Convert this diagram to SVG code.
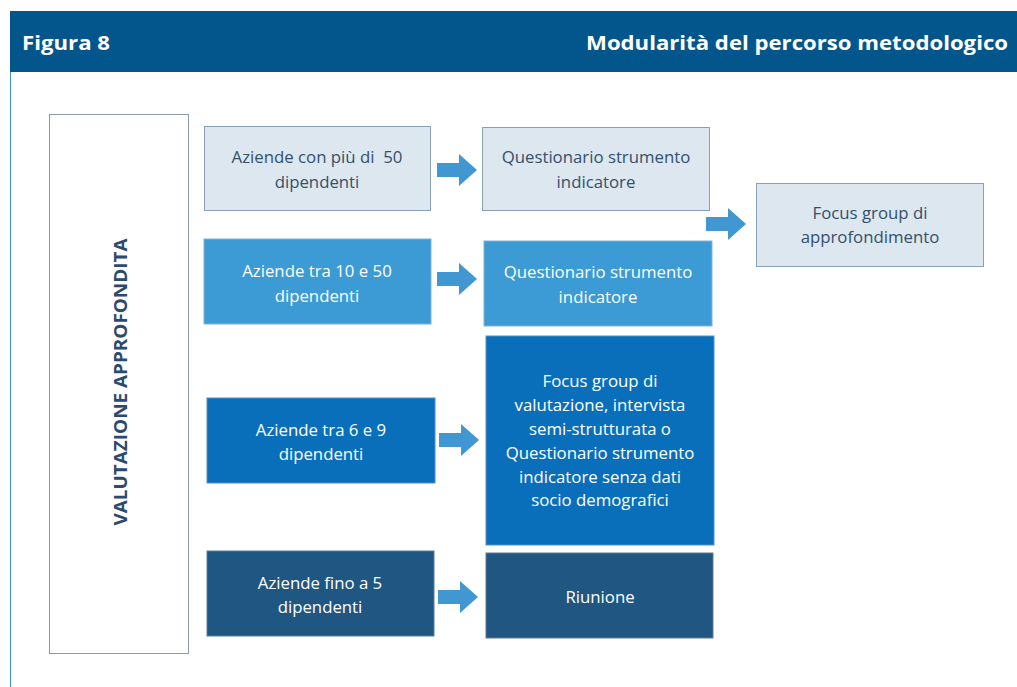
<svg xmlns="http://www.w3.org/2000/svg" width="1017" height="687" viewBox="0 0 1017 687">
<style>
.t{font-family:"Open Sans","Noto Sans",sans-serif;font-size:16.8px;text-anchor:middle}
.dk{fill:#34506b}
.wh{fill:#ffffff}
.light{fill:#dce7f0;stroke:#8aa0b5;stroke-width:1}
.mid{fill:#3c9ad5;stroke:#7fb3d9;stroke-width:1}
.blue{fill:#0a6fbb;stroke:#4e8fc4;stroke-width:1}
.dark{fill:#1f5782;stroke:#5d7d99;stroke-width:1}
.arrow{fill:#4197d2}
.hdr{font-family:"Open Sans","Noto Sans",sans-serif;font-weight:bold;font-size:19px;fill:#ffffff}
</style>
<defs>
<path id="arr" d="M0,-7 L22,-7 L22,-16 L40,0 L22,16 L22,7 L0,7 Z"/>
</defs>
<rect x="0" y="0" width="1017" height="687" fill="#ffffff"/>
<g id="frame">
<rect x="10" y="11" width="1007" height="61" fill="#03568c"/>
<line x1="10.5" y1="72" x2="10.5" y2="687" stroke="#3a8fd0" stroke-width="1"/>
<text class="hdr" x="22" y="50" textLength="88" lengthAdjust="spacingAndGlyphs">Figura 8</text>
<text class="hdr" x="1008" y="50" text-anchor="end" textLength="422" lengthAdjust="spacingAndGlyphs">Modularità del percorso metodologico</text>
</g>
<g id="valutazione">
<rect x="49.5" y="114.5" width="139" height="539" fill="#ffffff" stroke="#8a9aab" stroke-width="1"/>
<text transform="translate(127,382) rotate(-90)" font-family="Open Sans, Noto Sans, sans-serif" font-weight="bold" font-size="18.5" fill="#2c4a6e" text-anchor="middle" textLength="287" lengthAdjust="spacingAndGlyphs">VALUTAZIONE APPROFONDITA</text>
</g>
<g id="connectors">
<use href="#arr" class="arrow" transform="translate(437,170)"/>
<use href="#arr" class="arrow" transform="translate(437,279)"/>
<use href="#arr" class="arrow" transform="translate(439,440)"/>
<use href="#arr" class="arrow" transform="translate(438,597)"/>
<use href="#arr" class="arrow" transform="translate(706,224)"/>
</g>
<g id="n1">
<rect class="light" x="204.5" y="126.5" width="226" height="84"/>
<text class="t dk" x="317" y="163">Aziende con più di&#160; 50</text>
<text class="t dk" x="317" y="188">dipendenti</text>
</g>
<g id="n2">
<rect class="light" x="482.5" y="127.5" width="227" height="83"/>
<text class="t dk" x="596" y="163">Questionario strumento</text>
<text class="t dk" x="596" y="188">indicatore</text>
</g>
<g id="n3">
<rect class="light" x="756.5" y="183.5" width="227" height="83"/>
<text class="t dk" x="870" y="219">Focus group di</text>
<text class="t dk" x="870" y="243">approfondimento</text>
</g>
<g id="n4">
<rect class="mid" x="204" y="239" width="227" height="85"/>
<text class="t wh" x="317" y="277">Aziende tra 10 e 50</text>
<text class="t wh" x="317" y="302">dipendenti</text>
</g>
<g id="n5">
<rect class="mid" x="484" y="241" width="228" height="85"/>
<text class="t wh" x="598" y="278">Questionario strumento</text>
<text class="t wh" x="598" y="303">indicatore</text>
</g>
<g id="n6">
<rect class="blue" x="207" y="398" width="228" height="85"/>
<text class="t wh" x="321" y="436">Aziende tra 6 e 9</text>
<text class="t wh" x="321" y="460">dipendenti</text>
</g>
<g id="n7">
<rect class="blue" x="486" y="336" width="228" height="209"/>
<text class="t wh" x="600" y="387">Focus group di</text>
<text class="t wh" x="600" y="411">valutazione, intervista</text>
<text class="t wh" x="600" y="435">semi-strutturata o</text>
<text class="t wh" x="600" y="459">Questionario strumento</text>
<text class="t wh" x="600" y="483">indicatore senza dati</text>
<text class="t wh" x="600" y="506">socio demografici</text>
</g>
<g id="n8">
<rect class="dark" x="207" y="551" width="227" height="85"/>
<text class="t wh" x="320" y="589">Aziende fino a 5</text>
<text class="t wh" x="320" y="613">dipendenti</text>
</g>
<g id="n9">
<rect class="dark" x="486" y="553" width="227" height="85"/>
<text class="t wh" x="600" y="603">Riunione</text>
</g>
</svg>
